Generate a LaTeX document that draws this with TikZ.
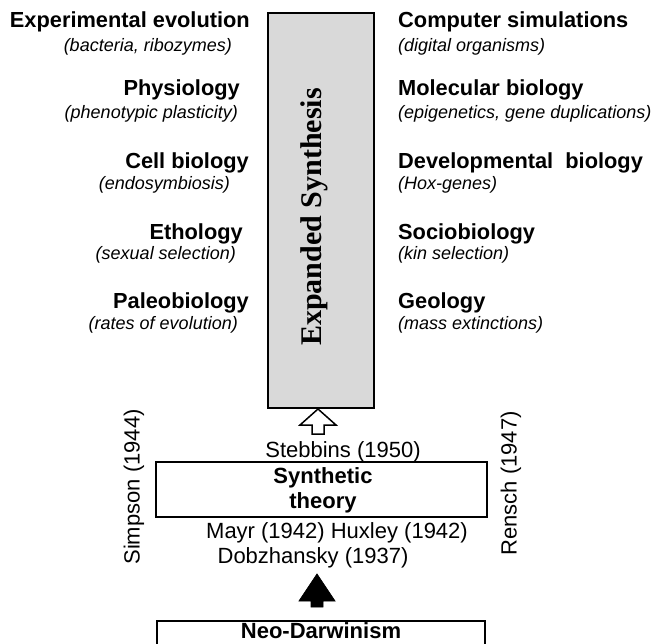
\documentclass[tikz,border=0pt]{standalone}
\usepackage{fontspec}
\setmainfont{Liberation Sans}
\newfontfamily\tnr{Liberation Serif}
\begin{document}
\begin{tikzpicture}[x=1pt,y=-1pt,
  head/.style={font=\fontsize{21.8}{26}\selectfont\bfseries, inner sep=0pt},
  sub/.style={font=\fontsize{18}{22}\selectfont\itshape, inner sep=0pt},
  plain/.style={font=\fontsize{22}{26}\selectfont, inner sep=0pt},
  lhead/.style={head, anchor=base east},
  lsub/.style={sub, anchor=base east},
  rhead/.style={head, anchor=base west},
  rsub/.style={sub, anchor=base west},
  frame/.style={draw, line width=1.5pt, inner sep=0pt},
  blockarrow/.style={draw, line width=1.5pt, line join=miter}
]
\useasboundingbox (0,0) rectangle (655,643);
\clip (0,0) rectangle (655,643);

% Expanded synthesis box
\node[frame, fill=black!15, minimum width=106pt, minimum height=395pt] (exp) at (321,210.5) {};
\node[inner sep=0pt, rotate=90, font=\tnr\fontsize{30}{34}\selectfont\bfseries] (exptext) at (314.5,217) {Expanded Synthesis};

% Left column
\node[lhead] (ee) at (250,27) {Experimental evolution};
\node[lsub] (ees) at (232,51) {(bacteria, ribozymes)};
\node[lhead] (ph) at (240,95) {Physiology};
\node[lsub] (phs) at (238,118) {(phenotypic plasticity)};
\node[lhead] (cb) at (249,168) {Cell biology};
\node[lsub] (cbs) at (230,189) {(endosymbiosis)};
\node[lhead] (et) at (243,239) {Ethology};
\node[lsub] (ets) at (236,259) {(sexual selection)};
\node[lhead] (pa) at (249,308) {Paleobiology};
\node[lsub] (pas) at (238,329) {(rates of evolution)};

% Right column
\node[rhead] (cs) at (398,27) {Computer simulations};
\node[rsub] (css) at (398,51) {(digital organisms)};
\node[rhead] (mb) at (398,95) {Molecular biology};
\node[rsub] (mbs) at (398,118) {(epigenetics, gene duplications)};
\node[rhead] (db) at (398,168) {Developmental\ \ biology};
\node[rsub] (dbs) at (398,189) {(Hox-genes)};
\node[rhead] (sb) at (398,239) {Sociobiology};
\node[rsub] (sbs) at (398,259) {(kin selection)};
\node[rhead] (ge) at (398,308) {Geology};
\node[rsub] (ges) at (398,329) {(mass extinctions)};

% Hollow arrow
\coordinate (htip) at (318,409);
\draw[blockarrow, fill=white] (htip) -- ++(18,16) -- ++(-12,0) -- ++(0,9) -- ++(-12,0) -- ++(0,-9) -- ++(-12,0) -- cycle;

% Synthetic theory
\node[plain, anchor=base] (steb) at (343,457) {Stebbins (1950)};
\node[frame, minimum width=331pt, minimum height=55pt] (syn) at (321.5,489.5) {};
\node[head, font=\fontsize{22}{25}\selectfont\bfseries, anchor=base] (syn1) at (323,483) {Synthetic};
\node[head, font=\fontsize{22}{25}\selectfont\bfseries, anchor=base] (syn2) at (323,508) {theory};
\node[plain, anchor=base] (mayr) at (337,538) {Mayr (1942) Huxley (1942)};
\node[plain, anchor=base] (dob) at (313,563) {Dobzhansky (1937)};
\node[plain, rotate=90] (simp) at (134,487) {Simpson (1944)};
\node[plain, rotate=90] (rens) at (511,483.5) {Rensch (1947)};

% Black arrow
\coordinate (btip) at (317,574);
\draw[blockarrow, fill=black, line width=0.8pt] (btip) -- ++(18,27) -- ++(-12,0) -- ++(0,6) -- ++(-12,0) -- ++(0,-6) -- ++(-12,0) -- cycle;

% Neo-Darwinism
\node[frame, minimum width=328pt, minimum height=40pt, anchor=north] (neo) at (321,620) {};
\node[head, font=\fontsize{22}{26}\selectfont\bfseries, anchor=base] (neotext) at (321,638) {Neo-Darwinism};
\end{tikzpicture}
\end{document}
